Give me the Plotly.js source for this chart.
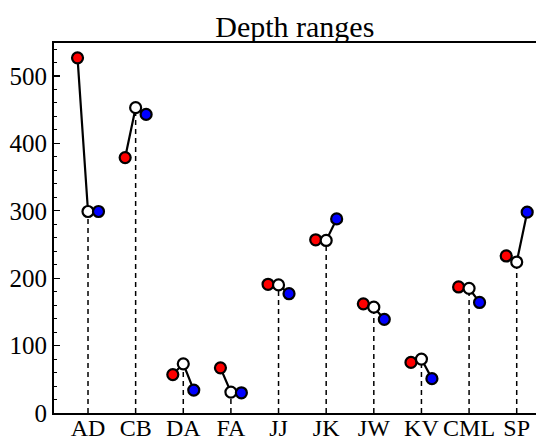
<!DOCTYPE html>
<html><head><meta charset="utf-8">
<script src="https://cdn.plot.ly/plotly-3.0.1.min.js"></script>
<style>body{margin:0;padding:0;background:#fff}#chart{width:536px;height:441px}</style>
</head><body><div id="chart"></div>
<script>
const categories = ["AD","CB","DA","FA","JJ","JK","JW","KV","CML","SP"];
const redValues   = [527, 379, 57, 67, 191, 257, 162, 75, 187, 233];
const whiteValues = [299, 453, 73, 31, 190, 256, 157, 80, 185, 224];
const blueValues  = [299, 443, 34, 30, 177, 288, 139, 51, 164, 298];

const FONT = 'Liberation Serif';
const off = 0.22;
const idx = categories.map((c,i)=>i);
const lx=[], ly=[], sx=[], sy=[];
idx.forEach(i=>{
  lx.push(i-off, i, i+off, null); ly.push(redValues[i], whiteValues[i], blueValues[i], null);
  sx.push(i, i, null); sy.push(0, whiteValues[i], null);
});
const mk = c => ({size:11, color:c, line:{color:'#000', width:2.2}});
const data = [
  {x:sx, y:sy, mode:'lines', line:{color:'#000', width:1.5, dash:'5px,4px'}, hoverinfo:'skip'},
  {x:lx, y:ly, mode:'lines', line:{color:'#000', width:2.2}, hoverinfo:'skip'},
  {x:idx.map(i=>i-off), y:redValues, mode:'markers', marker:mk('#ff0000')},
  {x:idx, y:whiteValues, mode:'markers', marker:mk('#ffffff')},
  {x:idx.map(i=>i+off), y:blueValues, mode:'markers', marker:mk('#0000ff')}
];
const layout = {
  width:536, height:441, showlegend:false,
  margin:{l:54, r:0, t:43, b:28},
  paper_bgcolor:'#fff', plot_bgcolor:'#fff',
  font:{family:FONT, color:'#000', size:25},
  title:{text:'Depth ranges', font:{size:30, family:FONT, color:'#000'}, x:0.55, xanchor:'center', y:0.94, yanchor:'middle'},
  xaxis:{range:[-0.714, 9.405], tickmode:'array', tickvals:idx, ticktext:categories,
    showgrid:false, zeroline:false, showline:true, linecolor:'#000', linewidth:2, mirror:true,
    ticks:'', ticklabelstandoff:-8, tickfont:{size:24, family:FONT, color:'#000'}},
  yaxis:{range:[0, 549], dtick:100, showgrid:false, zeroline:false, showline:true, linecolor:'#000', linewidth:2,
    ticks:'inside', ticklen:6, tickwidth:1.2, tickcolor:'#000', tickfont:{size:25, family:FONT, color:'#000'},
    minor:{dtick:20, ticks:'inside', ticklen:3, tickwidth:1, tickcolor:'#000', showgrid:false}}
};
Plotly.newPlot('chart', data, layout, {staticPlot:true});
</script></body></html>
